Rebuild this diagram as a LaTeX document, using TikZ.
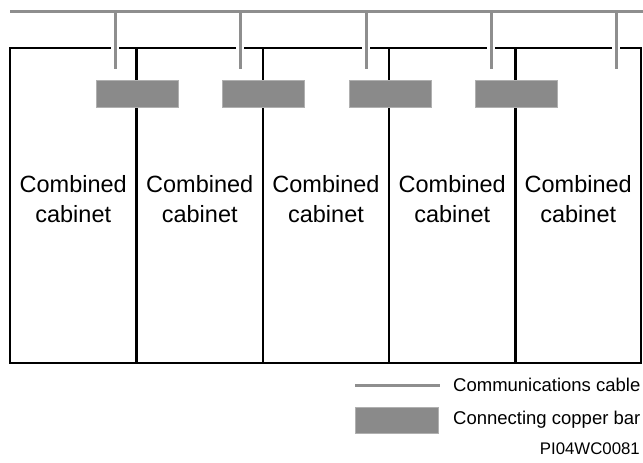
\documentclass[tikz,border=0pt]{standalone}
\usepackage{fontspec}
\setmainfont{Liberation Sans}
\definecolor{cablegray}{HTML}{8E8E8E}
\definecolor{bargray}{HTML}{8A8A8A}
\definecolor{baredge}{HTML}{B0B0B0}
\begin{document}
\begin{tikzpicture}[x=1pt,y=-1pt,
  cabinet/.style={draw=black,line width=2.2pt,rectangle,inner sep=0pt,outer sep=0pt,
    minimum height=315pt,align=center,font=\fontsize{23.5}{30}\selectfont},
  cable/.style={draw=cablegray,line width=3pt},
  gap/.style={draw=white,line width=8pt},
  copperbar/.style={fill=bargray,draw=baredge,line width=0.8pt,rectangle,inner sep=0pt,
    minimum width=82pt,minimum height=27pt},
  legtext/.style={anchor=west,inner sep=0pt,font=\fontsize{18.5}{22}\selectfont},
  codetext/.style={anchor=east,inner sep=0pt,font=\fontsize{16.8}{20}\selectfont}]
\useasboundingbox (0,0) rectangle (643,463);
% cabinets
\node[cabinet,minimum width=126.5pt] (cab1) at (73.25,205.5) {};
\node[cabinet,minimum width=126.5pt] (cab2) at (199.75,205.5) {};
\node[cabinet,minimum width=126pt] (cab3) at (326,205.5) {};
\node[cabinet,minimum width=126.5pt] (cab4) at (452.25,205.5) {};
\node[cabinet,minimum width=125.5pt] (cab5) at (578.25,205.5) {};
\foreach \i/\x in {1/73.25,2/199.75,3/326,4/452.25,5/578.25}{
  \node[align=center,inner sep=0pt,font=\fontsize{23.5}{30}\selectfont] (lab\i) at (\x,199) {Combined\\cabinet};
}
% communications cable
\coordinate (cl) at (10,11.5);
\coordinate (cr) at (643,11.5);
\draw[cable] (cl) -- (cr);
\foreach \i/\x in {1/115,2/240,3/366,4/491,5/616}{
  \coordinate (t\i) at (\x,11.5);
  \coordinate (d\i) at (\x,69);
  \draw[gap] (\x,44) -- (\x,52);
  \draw[cable] (t\i) -- (d\i);
}
% copper bars
\node[copperbar] (bar1) at (137,93.5) {};
\node[copperbar] (bar2) at (263,93.5) {};
\node[copperbar] (bar3) at (390,93.5) {};
\node[copperbar] (bar4) at (516,93.5) {};
% legend
\coordinate (la) at (355,385);
\coordinate (lb) at (440,385);
\draw[cable] (la) -- (lb);
\node[legtext] (lt1) at (453,385) {Communications cable};
\node[copperbar,minimum width=83pt,minimum height=26pt] (lbar) at (396.5,420) {};
\node[legtext] (lt2) at (453,420) {Connecting copper bar};
\node[codetext] (code) at (640,449) {PI04WC0081};
\end{tikzpicture}
\end{document}
